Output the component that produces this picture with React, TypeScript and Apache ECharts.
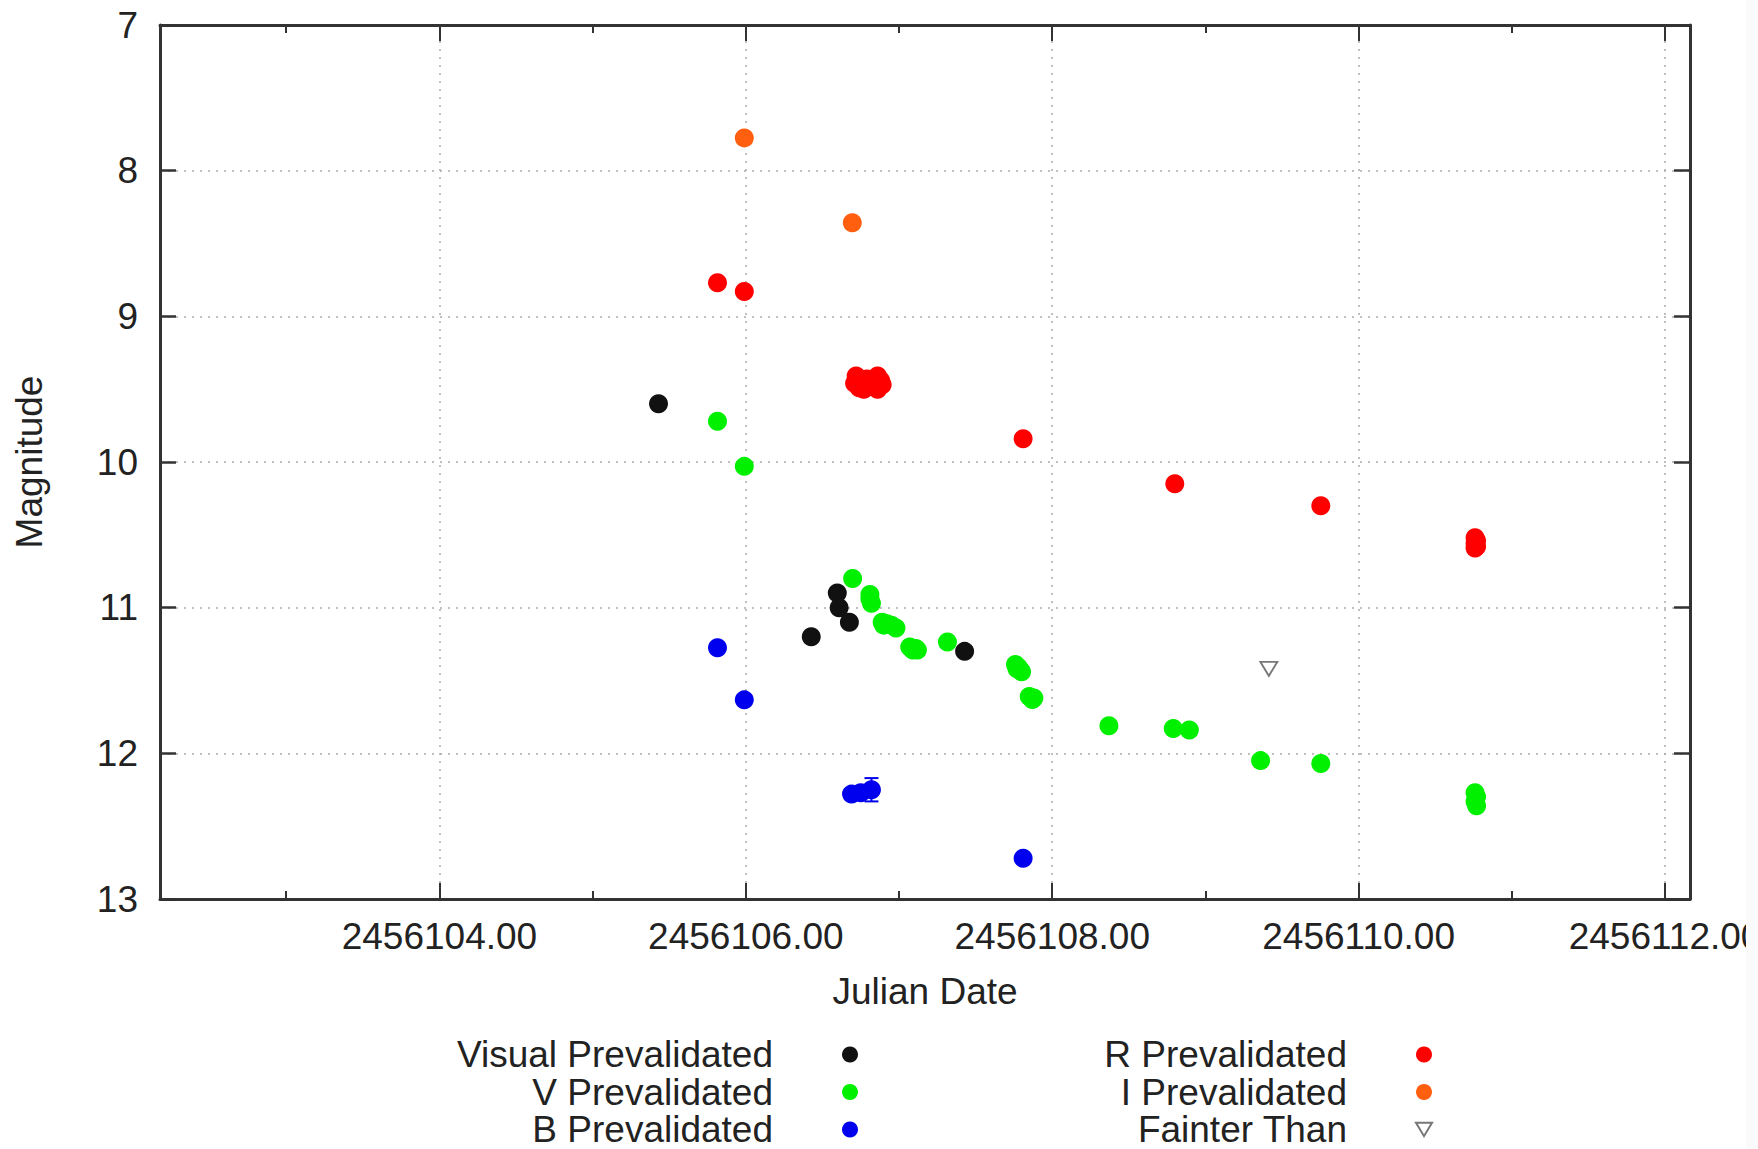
import React, { useEffect, useRef } from 'react';
import * as echarts from 'echarts';

// ---------- data (Julian Date, Magnitude) ----------
const visualData: number[][] = [
  [2456105.43, 9.6],
  [2456106.427, 11.2],
  [2456106.597, 10.9],
  [2456106.609, 11.0],
  [2456106.676, 11.1],
  [2456107.428, 11.3],
];

const vData: number[][] = [
  [2456105.815, 9.72],
  [2456105.99, 10.03],
  [2456106.697, 10.8],
  [2456106.81, 10.91],
  [2456106.81, 10.94],
  [2456106.82, 10.97],
  [2456106.89, 11.1],
  [2456106.92, 11.11],
  [2456106.95, 11.12],
  [2456106.98, 11.14],
  [2456106.9, 11.12],
  [2456107.07, 11.27],
  [2456107.09, 11.29],
  [2456107.11, 11.28],
  [2456107.12, 11.29],
  [2456107.316, 11.235],
  [2456107.76, 11.39],
  [2456107.78, 11.41],
  [2456107.79, 11.43],
  [2456107.8, 11.44],
  [2456107.77, 11.42],
  [2456107.85, 11.61],
  [2456107.87, 11.63],
  [2456107.88, 11.62],
  [2456108.37, 11.81],
  [2456108.79, 11.83],
  [2456108.895, 11.84],
  [2456109.36, 12.05],
  [2456109.753, 12.07],
  [2456110.76, 12.27],
  [2456110.77, 12.3],
  [2456110.76, 12.33],
  [2456110.77, 12.36],
];

const bData: number[][] = [
  [2456105.815, 11.275],
  [2456105.99, 11.633],
  [2456106.69, 12.28],
  [2456106.75, 12.27],
  [2456106.82, 12.25],
  [2456107.81, 12.72],
];

// [JD, low, high] error bars
const bErrors: number[][] = [[2456106.82, 12.17, 12.33]];

const rData: number[][] = [
  [2456105.815, 8.77],
  [2456105.99, 8.83],
  [2456106.72, 9.41],
  [2456106.73, 9.44],
  [2456106.71, 9.46],
  [2456106.74, 9.49],
  [2456106.77, 9.5],
  [2456106.8, 9.47],
  [2456106.83, 9.44],
  [2456106.86, 9.41],
  [2456106.88, 9.44],
  [2456106.89, 9.47],
  [2456106.86, 9.5],
  [2456106.79, 9.43],
  [2456106.76, 9.45],
  [2456107.81, 9.84],
  [2456108.8, 10.15],
  [2456109.753, 10.3],
  [2456110.76, 10.52],
  [2456110.77, 10.54],
  [2456110.76, 10.56],
  [2456110.77, 10.58],
  [2456110.76, 10.59],
];

const iData: number[][] = [
  [2456105.99, 7.775],
  [2456106.695, 8.358],
];

const fainterData: number[][] = [[2456109.414, 11.42]];

const X_MIN = 2456102.176;
const X_MAX = 2456112.163;
const xMajorTicks = [2456104, 2456106, 2456108, 2456110, 2456112];
const xMinorTicks = [2456103, 2456105, 2456107, 2456109, 2456111];
const Y_MIN = 7;
const Y_MAX = 13;

const FONT = "'Liberation Sans', Arial, Helvetica, sans-serif";
const TEXT = '#222';
const FRAME = '#333';
const TRI = 'path://M0,0L12,0L6,10Z';

export default function App() {
  const ref = useRef<HTMLDivElement>(null);

  useEffect(() => {
    if (!ref.current) return;
    const chart = echarts.init(ref.current, undefined, { renderer: 'svg' });

    const frameLine = { show: true, onZero: false, lineStyle: { color: FRAME, width: 3 } };
    const textBase = { fontFamily: FONT, fontSize: 37, color: TEXT };

    const scatter = (name: string, data: number[][], color: string, extra: any = {}) => ({
      type: 'scatter',
      name,
      data,
      xAxisIndex: 0,
      yAxisIndex: 0,
      symbol: 'circle',
      symbolSize: 19,
      itemStyle: { color, opacity: 1 },
      ...extra,
    });

    const legendCommon = {
      orient: 'vertical',
      align: 'right',
      top: 1036,
      height: 200,
      padding: 0,
      itemGap: 0.5,
      itemWidth: 16,
      itemHeight: 16,
      selectedMode: false,
      textStyle: { ...textBase, lineHeight: 37, padding: [0, 64, 0, 0] },
    };

    const gridBox = { left: 160, right: 56, top: 25, bottom: 250, outerBoundsMode: 'none', containLabel: false };

    chart.setOption({
      animation: false,
      backgroundColor: '#fff',
      grid: [{ ...gridBox }, { ...gridBox }],
      xAxis: [
        {
          type: 'value',
          gridIndex: 0,
          position: 'bottom',
          min: X_MIN,
          max: X_MAX,
          axisLine: frameLine,
          axisTick: { show: true, inside: true, length: 16, customValues: xMajorTicks, lineStyle: { color: FRAME, width: 2 } },
          axisLabel: { ...textBase, customValues: xMajorTicks, margin: 19, formatter: (v: number) => v.toFixed(2) },
          splitLine: { show: true, lineStyle: { color: '#aaa', width: 1.5, type: [2, 6] } },
          name: 'Julian Date',
          nameLocation: 'middle',
          nameGap: 74,
          nameTextStyle: textBase,
        },
        {
          type: 'value',
          gridIndex: 0,
          position: 'top',
          min: X_MIN,
          max: X_MAX,
          axisLine: frameLine,
          axisTick: { show: true, inside: true, length: 16, customValues: xMajorTicks, lineStyle: { color: FRAME, width: 2 } },
          axisLabel: { show: false },
          splitLine: { show: false },
        },
        {
          type: 'value',
          gridIndex: 1,
          position: 'bottom',
          min: X_MIN,
          max: X_MAX,
          axisLine: { show: false, onZero: false },
          axisTick: { show: true, inside: true, length: 8, customValues: xMinorTicks, lineStyle: { color: FRAME, width: 2 } },
          axisLabel: { show: false },
          splitLine: { show: false },
        },
        {
          type: 'value',
          gridIndex: 1,
          position: 'top',
          min: X_MIN,
          max: X_MAX,
          axisLine: { show: false, onZero: false },
          axisTick: { show: true, inside: true, length: 8, customValues: xMinorTicks, lineStyle: { color: FRAME, width: 2 } },
          axisLabel: { show: false },
          splitLine: { show: false },
        },
      ],
      yAxis: [
        {
          type: 'value',
          gridIndex: 0,
          position: 'left',
          inverse: true,
          min: Y_MIN,
          max: Y_MAX,
          interval: 1,
          axisLine: frameLine,
          axisTick: { show: true, inside: true, length: 16, lineStyle: { color: FRAME, width: 2.5 } },
          axisLabel: { ...textBase, margin: 22 },
          splitLine: { show: true, showMinLine: false, showMaxLine: false, lineStyle: { color: '#aaa', width: 1.5, type: [2, 6] } },
          name: 'Magnitude',
          nameLocation: 'middle',
          nameGap: 112,
          nameTextStyle: textBase,
        },
        {
          type: 'value',
          gridIndex: 0,
          position: 'right',
          inverse: true,
          min: Y_MIN,
          max: Y_MAX,
          interval: 1,
          axisLine: frameLine,
          axisTick: { show: true, inside: true, length: 16, lineStyle: { color: FRAME, width: 2.5 } },
          axisLabel: { show: false },
          splitLine: { show: false },
        },
        {
          type: 'value',
          gridIndex: 1,
          show: false,
          min: Y_MIN,
          max: Y_MAX,
        },
      ],
      legend: [
        {
          ...legendCommon,
          right: 888,
          data: [
            { name: 'Visual Prevalidated', icon: 'circle' },
            { name: 'V Prevalidated', icon: 'circle' },
            { name: 'B Prevalidated', icon: 'circle' },
          ],
        },
        {
          ...legendCommon,
          right: 313,
          data: [
            { name: 'R Prevalidated', icon: 'circle' },
            { name: 'I Prevalidated', icon: 'circle' },
            { name: 'Fainter Than', icon: TRI },
          ],
        },
      ],
      series: [
        scatter('Visual Prevalidated', visualData, '#111'),
        scatter('R Prevalidated', rData, '#ff0000'),
        scatter('I Prevalidated', iData, '#ff5f0f'),
        scatter('V Prevalidated', vData, '#00f000'),
        {
          type: 'custom',
          name: 'B errors',
          xAxisIndex: 0,
          yAxisIndex: 0,
          data: bErrors,
          encode: { x: 0, y: [1, 2] },
          silent: true,
          renderItem: (_params: any, api: any) => {
            const x = api.value(0);
            const lo = api.coord([x, api.value(1)]);
            const hi = api.coord([x, api.value(2)]);
            const st = { stroke: '#0000ee', lineWidth: 2 };
            return {
              type: 'group',
              children: [
                { type: 'line', shape: { x1: lo[0], y1: lo[1], x2: hi[0], y2: hi[1] }, style: st },
                { type: 'line', shape: { x1: lo[0] - 7, y1: lo[1], x2: lo[0] + 7, y2: lo[1] }, style: st },
                { type: 'line', shape: { x1: hi[0] - 7, y1: hi[1], x2: hi[0] + 7, y2: hi[1] }, style: st },
              ],
            };
          },
        },
        scatter('B Prevalidated', bData, '#0000ee'),
        {
          type: 'scatter',
          name: 'Fainter Than',
          data: fainterData,
          xAxisIndex: 0,
          yAxisIndex: 0,
          symbol: TRI,
          symbolSize: [17, 14],
          itemStyle: { color: 'transparent', borderColor: '#555', borderWidth: 1.8 },
        },
      ],
    });

    return () => chart.dispose();
  }, []);

  return (
    <div style={{ position: 'absolute', left: 0, top: 0, width: 1758, height: 1149, background: '#fafafa' }}>
      <div
        ref={ref}
        style={{ position: 'absolute', left: 0, top: 0, width: 1746, height: 1149, background: '#fff' }}
      />
    </div>
  );
}
